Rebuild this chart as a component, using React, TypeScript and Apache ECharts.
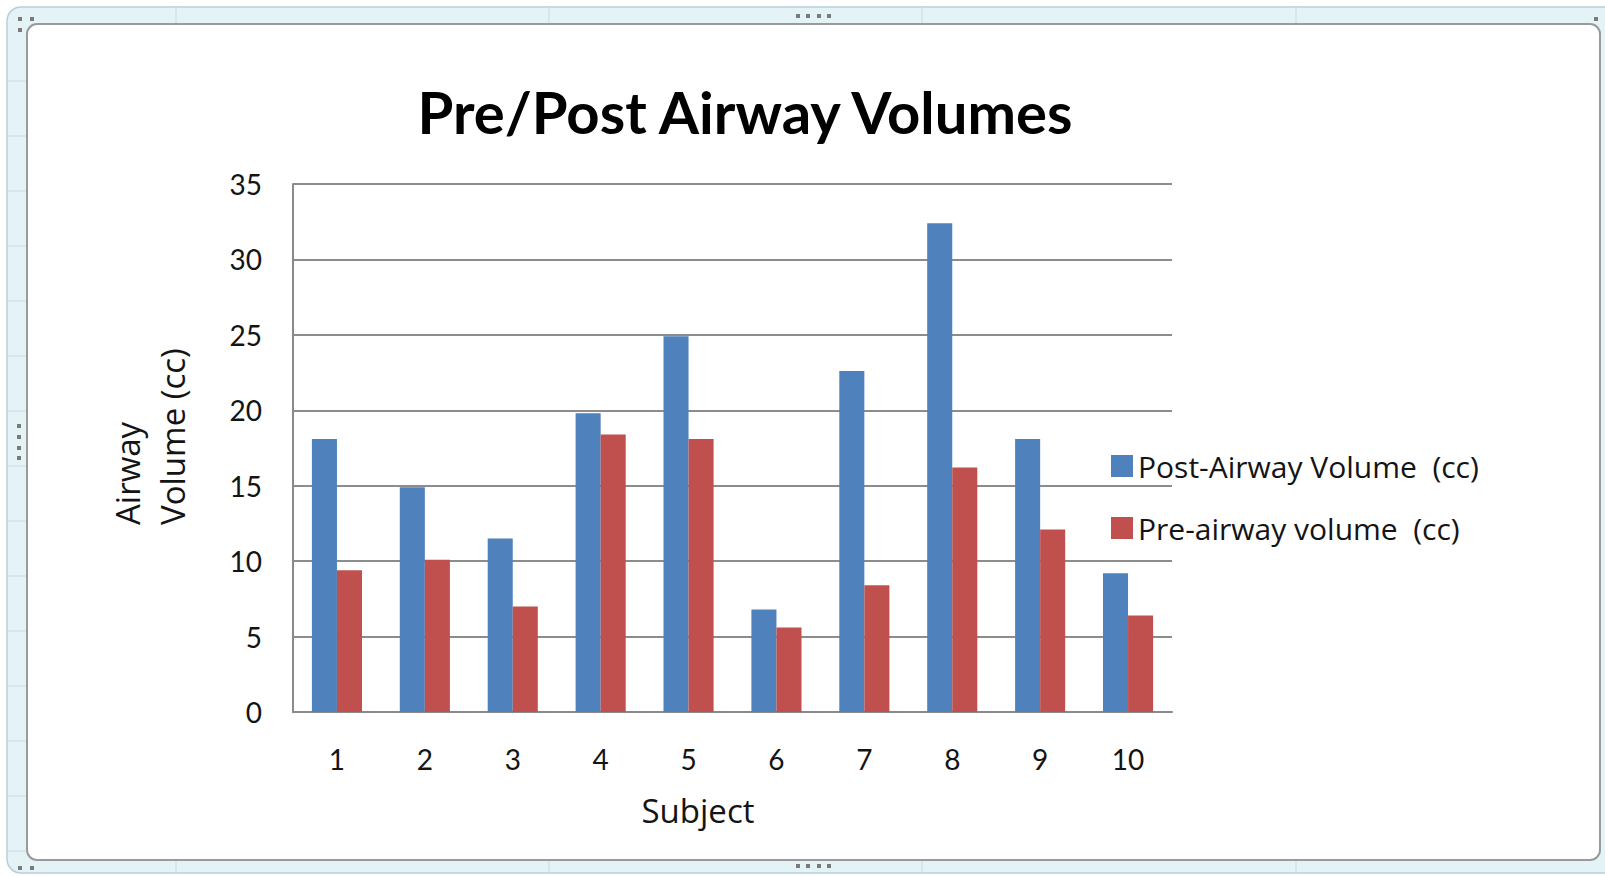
import React, { useEffect, useRef } from "react";
import * as echarts from "echarts";

const subjects = ["1", "2", "3", "4", "5", "6", "7", "8", "9", "10"];
const postAirway = [18.1, 14.9, 11.5, 19.8, 24.9, 6.8, 22.6, 32.4, 18.1, 9.2];
const preAirway = [9.4, 10.1, 7.0, 18.4, 18.1, 5.6, 8.4, 16.2, 12.1, 6.4];
const seriesNames = ["Post-Airway Volume  (cc)", "Pre-airway volume  (cc)"];
const titleText = "Pre/Post Airway Volumes";
const yAxisTitle = "Airway\nVolume (cc)";
const xAxisTitle = "Subject";

const FONT = "Lato, 'Open Sans', sans-serif";
const FONT2 = "'Open Sans', Lato, sans-serif";
const TEXT = "#141414";

export default function App() {
  const ref = useRef<HTMLDivElement>(null);
  useEffect(() => {
    if (!ref.current) return;
    const chart = echarts.init(ref.current, undefined, { renderer: "svg" });
    const handle = (x: number, y: number) => ({
      type: "rect",
      z: -5,
      silent: true,
      shape: { x, y, width: 4, height: 4 },
      style: { fill: "#7a7a7a" },
    });
    const sheetLines: any[] = [];
    [176, 549, 922, 1296].forEach((x) => {
      sheetLines.push({ type: "line", z: -8, silent: true, shape: { x1: x, y1: 7, x2: x, y2: 24 }, style: { stroke: "#c8dde2", lineWidth: 1 } });
      sheetLines.push({ type: "line", z: -8, silent: true, shape: { x1: x, y1: 861, x2: x, y2: 873 }, style: { stroke: "#c8dde2", lineWidth: 1 } });
    });
    for (let y = 81; y < 860; y += 55) {
      sheetLines.push({ type: "line", z: -8, silent: true, shape: { x1: 7, y1: y, x2: 26, y2: y }, style: { stroke: "#c8dde2", lineWidth: 1 } });
    }
    chart.setOption({
      animation: false,
      backgroundColor: "#ffffff",
      textStyle: { fontFamily: FONT },
      title: {
        text: titleText,
        left: 740,
        textAlign: "center",
        top: 77,
        textStyle: { fontFamily: FONT, fontWeight: "bold", fontSize: 58, color: "#000" },
      },
      legend: {
        orient: "vertical",
        left: 1111,
        top: 451,
        padding: 0,
        itemWidth: 22,
        itemHeight: 22,
        itemGap: 32,
        icon: "rect",
        textStyle: { fontFamily: FONT2, fontSize: 30, color: TEXT },
        data: seriesNames,
      },
      grid: { left: 293, top: 184, width: 879, height: 528, containLabel: false },
      xAxis: {
        type: "category",
        data: subjects,
        axisLine: { show: true, lineStyle: { color: "#8a8a8a", width: 2 } },
        axisTick: { show: false },
        axisLabel: { fontFamily: FONT, fontSize: 28, color: TEXT, margin: 33 },
        splitLine: { show: false },
      },
      yAxis: {
        type: "value",
        min: 0,
        max: 35,
        interval: 5,
        axisLine: { show: true, lineStyle: { color: "#8a8a8a", width: 2 } },
        axisTick: { show: false },
        axisLabel: { fontFamily: FONT, fontSize: 28, color: TEXT, margin: 31 },
        splitLine: { show: true, lineStyle: { color: "#8c8c8c", width: 2 } },
      },
      series: [
        {
          name: seriesNames[0],
          type: "bar",
          data: postAirway,
          barGap: "0%",
          barCategoryGap: "43%",
          itemStyle: { color: "#4F81BD" },
        },
        {
          name: seriesNames[1],
          type: "bar",
          data: preAirway,
          barGap: "0%",
          barCategoryGap: "43%",
          itemStyle: { color: "#C0504D" },
        },
      ],
      graphic: [
        {
          type: "rect",
          z: -10,
          silent: true,
          shape: { x: 7, y: 7, width: 1620, height: 866, r: 14 },
          style: { fill: "#e3f3f6", stroke: "#b5cfd6", lineWidth: 1.5 },
        },
        ...sheetLines,
        {
          type: "rect",
          z: -6,
          silent: true,
          shape: { x: 27, y: 24, width: 1573, height: 836, r: 10 },
          style: { fill: "#ffffff", stroke: "#9a9a9a", lineWidth: 2 },
        },
        handle(18, 17),
        handle(30, 17),
        handle(18, 28),
        handle(1594, 17),
        handle(796, 14),
        handle(806, 14),
        handle(817, 14),
        handle(827, 14),
        handle(796, 864),
        handle(806, 864),
        handle(817, 864),
        handle(827, 864),
        handle(17, 424),
        handle(17, 435),
        handle(17, 446),
        handle(17, 456),
        handle(18, 866),
        handle(30, 866),
        {
          type: "text",
          x: 150,
          y: 525,
          rotation: Math.PI / 2,
          style: {
            text: yAxisTitle,
            fontFamily: FONT2,
            fontSize: 33,
            lineHeight: 45,
            fill: TEXT,
            textAlign: "left",
            textVerticalAlign: "middle",
          },
        },
        {
          type: "text",
          x: 698,
          y: 810,
          style: {
            text: xAxisTitle,
            fontFamily: FONT2,
            fontSize: 33,
            fill: TEXT,
            textAlign: "center",
            textVerticalAlign: "middle",
          },
        },
      ],
    });
    return () => chart.dispose();
  }, []);
  return (
    <div
      ref={ref}
      style={{ position: "fixed", left: 0, top: 0, width: 1605, height: 876 }}
    />
  );
}
